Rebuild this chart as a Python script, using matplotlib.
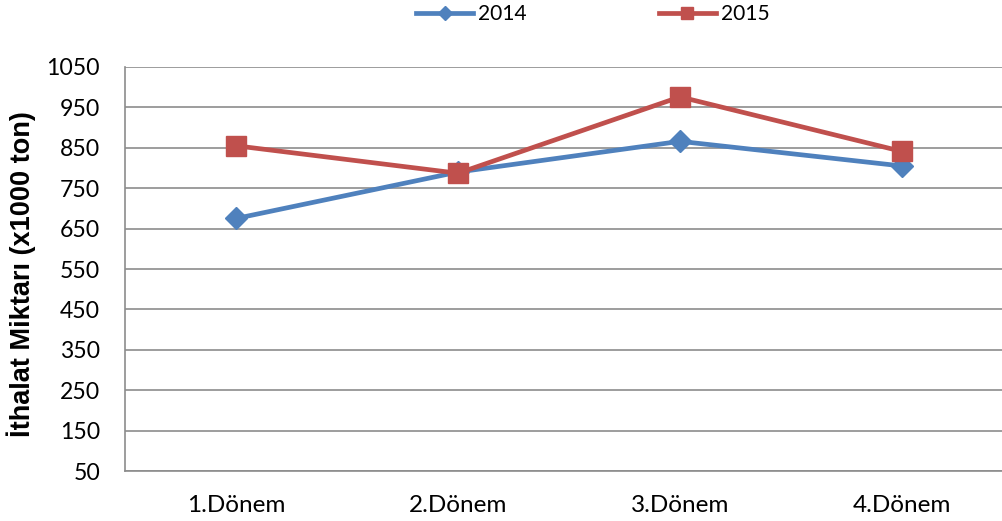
import matplotlib
matplotlib.use("Agg")
import matplotlib.pyplot as plt

categories = ["1.Dönem", "2.Dönem", "3.Dönem", "4.Dönem"]
values_2014 = [675, 790, 866, 805]
values_2015 = [855, 787, 976, 841]
series_names = ["2014", "2015"]
yticks = [50, 150, 250, 350, 450, 550, 650, 750, 850, 950, 1050]

plt.rcParams['font.family'] = ['Lato', 'DejaVu Sans']

W, H = 1002, 521
fig = plt.figure(figsize=(W / 100, H / 100), dpi=100)
left, right, top, bottom = 125, 1013, 67, 471
ax = fig.add_axes([left / W, 1 - bottom / H, (right - left) / W, (bottom - top) / H])

blue = "#4F81BD"
red = "#C0504D"
x = list(range(len(categories)))
ax.plot(x, values_2014, color=blue, lw=3.4, marker="D", ms=11.5, label=series_names[0], zorder=3)
ax.plot(x, values_2015, color=red, lw=3.4, marker="s", ms=15, label=series_names[1], zorder=4)

ax.set_xlim(-0.5, 3.5)
ax.set_ylim(50, 1050)
ax.set_yticks(yticks)
ax.set_xticks(x)
ax.set_xticklabels(categories)
ax.tick_params(length=0, colors="#000000")
ax.tick_params(axis='y', labelsize=16.6, pad=18)
ax.tick_params(axis='x', labelsize=17.5, pad=17)
ax.grid(axis='y', color="#8C8C8C", lw=1.2)
ax.set_axisbelow(True)
for s in ["top", "right"]:
    ax.spines[s].set_visible(False)
for s in ["left", "bottom"]:
    ax.spines[s].set_color("#8C8C8C")
    ax.spines[s].set_linewidth(1.2)

fig.text(21 / W, 1 - 274 / H, "İthalat Miktarı (x1000 ton)", rotation=90,
         ha="center", va="center", fontsize=19.5, fontweight="bold",
         family=['Liberation Sans', 'DejaVu Sans'])

leg = fig.legend(loc="center", bbox_to_anchor=(593 / W, 1 - 14 / H), ncol=2,
                 frameon=False, fontsize=15.1, markerscale=0.6, handlelength=2.7,
                 columnspacing=6.3, handletextpad=0.25)

fig.savefig("out.png", dpi=100)
